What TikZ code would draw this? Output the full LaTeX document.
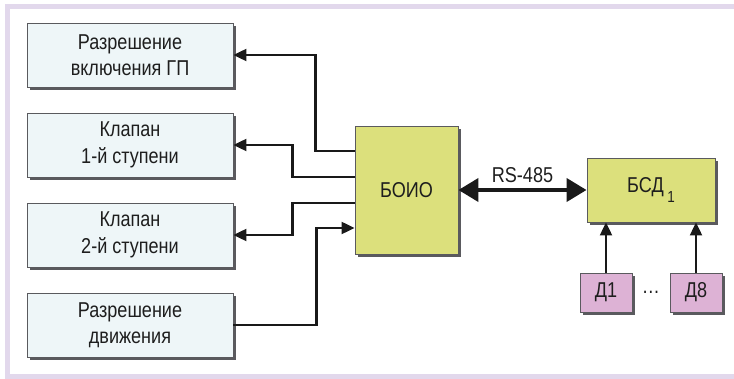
\documentclass[tikz,border=0pt]{standalone}
\usepackage{fontspec}
\setmainfont[FakeStretch=0.84]{Liberation Sans}
\usepackage{tikz}
\usetikzlibrary{arrows.meta, shadows}

\definecolor{ramka}{HTML}{E2D8EC}
\definecolor{golub}{HTML}{EEF6F8}
\definecolor{zhelt}{HTML}{DCE07C}
\definecolor{rozov}{HTML}{DDB2D5}
\definecolor{ten}{HTML}{5A5A5E}
\definecolor{tekst}{HTML}{1E1E1E}

\begin{document}
\begin{tikzpicture}[x=1pt, y=-1pt,
        font=\fontsize{21.5}{26.5}\selectfont, text=tekst,
        blok/.style={draw=ten, line width=0.9pt, align=center, inner sep=0pt,
            drop shadow={shadow xshift=3pt, shadow yshift=-3pt, fill=ten, opacity=1}},
        vyhod/.style={blok, fill=golub, minimum width=206pt, minimum height=64pt},
        link/.style={line width=2.2pt, draw=black!90, -{Triangle[length=13pt, width=12pt]}},
        shina/.style={line width=4pt, draw=black!90, {Triangle[length=20pt, width=23pt]}-{Triangle[length=20pt, width=23pt]}}]
        \useasboundingbox (0,0) rectangle (734,379);

        % Рамка
        \draw[ramka, line width=5pt] (734,6.5) -- (7.5,6.5) -- (7.5,376.5) -- (734,376.5);

        % Выходы
        \node[vyhod] (gp) at (130,55) {Разрешение\\включения ГП};
        \node[vyhod] (kl1) at (130,145) {Клапан\\1-й ступени};
        \node[vyhod] (kl2) at (130,235) {Клапан\\2-й ступени};
        \node[vyhod] (dvizh) at (130,325) {Разрешение\\движения};

        % Блоки
        \node[blok, fill=zhelt, minimum width=103pt, minimum height=128pt] (boio) at (406.5,190) {БОИО};
        \node[blok, fill=zhelt, minimum width=128pt, minimum height=64pt] (bsd) at (651,190)
            {БСД\,\raisebox{-0.45em}{\fontsize{16}{16}\selectfont 1}};
        \node[blok, fill=rozov, minimum width=52pt, minimum height=39pt] (d1) at (606,292.5) {Д1};
        \node[blok, fill=rozov, minimum width=52pt, minimum height=39pt] (d8) at (696,292.5) {Д8};
        \node (tochki) at (651,292) {\dots};

        % Связи
        \draw[link] ([yshift=39pt]boio.west) -- ++(-39,0) |- (gp.east);
        \draw[link] ([yshift=13pt]boio.west) -- ++(-62,0) |- (kl1.east);
        \draw[link] ([yshift=-13pt]boio.west) -- ++(-62,0) |- (kl2.east);
        \draw[link] (dvizh.east) -- ++(83,0) |- ([yshift=-38pt]boio.west);
        \draw[shina] (boio.east) -- node[above=2pt] (rs) {RS-485} (bsd.west);
        \draw[link] (d1.north) -- (d1.north |- bsd.south);
        \draw[link] (d8.north) -- (d8.north |- bsd.south);
    \end{tikzpicture}
\end{document}
